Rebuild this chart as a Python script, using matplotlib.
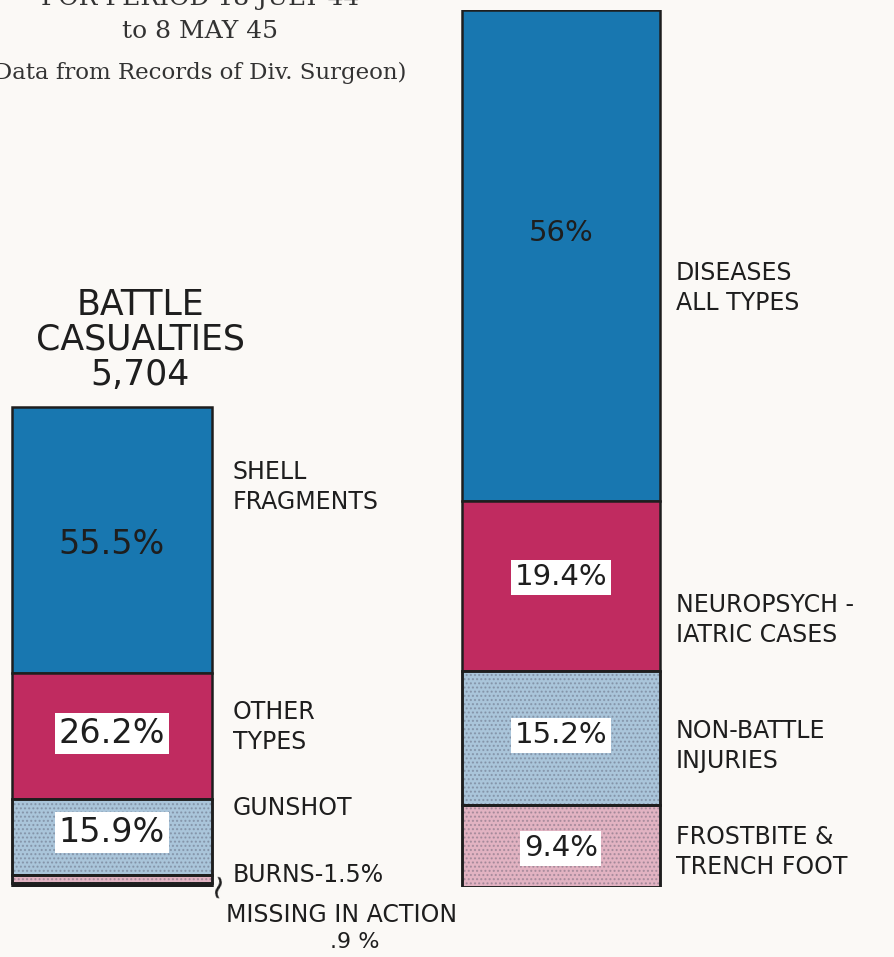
import matplotlib
matplotlib.use("Agg")
import matplotlib.pyplot as plt

# ---------------- data ----------------
battle_categories = ["SHELL\nFRAGMENTS", "OTHER\nTYPES", "GUNSHOT", "BURNS-1.5%", "MISSING IN ACTION\n.9 %"]
battle_values = [55.5, 26.2, 15.9, 1.5, 0.9]
battle_labels = ["55.5%", "26.2%", "15.9%", "", ""]
battle_total_label = "BATTLE\nCASUALTIES\n5,704"

nonbattle_categories = ["DISEASES\nALL TYPES", "NEUROPSYCH -\nIATRIC CASES", "NON-BATTLE\nINJURIES", "FROSTBITE &\nTRENCH FOOT"]
nonbattle_values = [56.0, 19.4, 15.2, 9.4]
nonbattle_labels = ["56%", "19.4%", "15.2%", "9.4%"]

title_lines = ["FOR PERIOD 18 JULY 44", "to 8 MAY 45", "(Data from Records of Div. Surgeon)"]

# ---------------- style ----------------
W, H = 895, 957
BG = "#fbf9f6"
battle_colors = ["#1877b0", "#c02b60", "#aac5da", "#e2b3c2", "#1c1c1c"]
nonbattle_colors = ["#1877b0", "#c02b60", "#aac5da", "#e2b3c2"]
battle_hatch = [None, None, "....", "....", None]
nonbattle_hatch = [None, None, "....", "...."]
left_scale = 480 / 877  # relative height of battle bar vs non-battle bar
SANS = ["DejaVu Sans"]
SERIF = ["DejaVu Serif"]
INK = "#1e1e1e"

fig = plt.figure(figsize=(W / 100, H / 100), dpi=100, facecolor=BG)
# data axis: y=0 at pixel 887, y=100 at pixel 10
ax = fig.add_axes([0, (H - 887) / H, 1, (887 - 10) / H])
ax.set_xlim(0, W)
ax.set_ylim(0, 100)
ax.axis("off")


def px(x, y):
    return x / W, 1 - y / H


def draw_stack(x0, width, values, colors, hatches, scale):
    bottoms = []
    b = 0
    for v in reversed(values):
        bottoms.append(b)
        b += v * scale
    bottoms = list(reversed(bottoms))
    centers = []
    for v, c, h, bot in zip(values, colors, hatches, bottoms):
        ax.bar(x0, v * scale, width=width, bottom=bot, align="edge",
               color=c, edgecolor=INK, linewidth=1.8, zorder=2)
        if h:
            ax.bar(x0, v * scale, width=width, bottom=bot, align="edge",
                   color="none", edgecolor=(0.3, 0.3, 0.38, 0.35), hatch=h,
                   linewidth=0, zorder=3)
            ax.bar(x0, v * scale, width=width, bottom=bot, align="edge",
                   color="none", edgecolor=INK, linewidth=1.8, zorder=4)
        centers.append(bot + v * scale / 2)
    return centers


lx, lw = 12, 200
rx, rw = 462, 198
left_centers = draw_stack(lx, lw, battle_values, battle_colors, battle_hatch, left_scale)
right_centers = draw_stack(rx, rw, nonbattle_values, nonbattle_colors, nonbattle_hatch, 1.0)

box = dict(boxstyle="square,pad=0.12", facecolor="white", edgecolor="none")

# percentage labels
left_offsets = [-0.5, 0.3, 0.5]
for i, (lab, c) in enumerate(zip(battle_labels, left_centers)):
    if not lab:
        continue
    ax.text(lx + lw / 2, c + left_offsets[i], lab, ha="center", va="center",
            fontsize=24, family=SANS, color=INK, zorder=6,
            bbox=None if i == 0 else box)
right_offsets = [2.6, 1.0, 0.3, -0.3]
for i, (lab, c) in enumerate(zip(nonbattle_labels, right_centers)):
    ax.text(rx + rw / 2, c + right_offsets[i], lab, ha="center", va="center",
            fontsize=21, family=SANS, color=INK, zorder=6,
            bbox=None if i == 0 else box)

# category labels
lab_kw = dict(fontsize=17, family=SANS, color=INK, ha="left", va="center", linespacing=1.3)
left_label_y = [487, 727, 808, 875]
for name, y in zip(battle_categories[:4], left_label_y):
    fig.text(*px(233, y), name, **lab_kw)
miss_name, miss_pct = battle_categories[4].split("\n")
fig.text(*px(226, 915), miss_name, **lab_kw)
fig.text(*px(355, 942), miss_pct, fontsize=16, family=SANS, color=INK, ha="center", va="center")
fig.text(*px(217, 884), "~", fontsize=24, family=SANS, color=INK, ha="center",
         va="center", rotation=80)

right_label_y = [288, 620, 746, 852]
for name, y in zip(nonbattle_categories, right_label_y):
    fig.text(*px(676, y), name, **lab_kw)

# battle title
fig.text(*px(140, 340), battle_total_label, ha="center", va="center", fontsize=25,
         family=SANS, color=INK, linespacing=1.05)

# top serif titles (partly cut by the page edge, as in the original)
fig.text(*px(200, -2), title_lines[0], ha="center", va="center", fontsize=18,
         family=SERIF, color="#333333")
fig.text(*px(200, 31), title_lines[1], ha="center", va="center", fontsize=18,
         family=SERIF, color="#333333")
fig.text(*px(196, 73), title_lines[2], ha="center", va="center", fontsize=16.5,
         family=SERIF, color="#333333")

fig.savefig("out.png", dpi=100, facecolor=BG)
